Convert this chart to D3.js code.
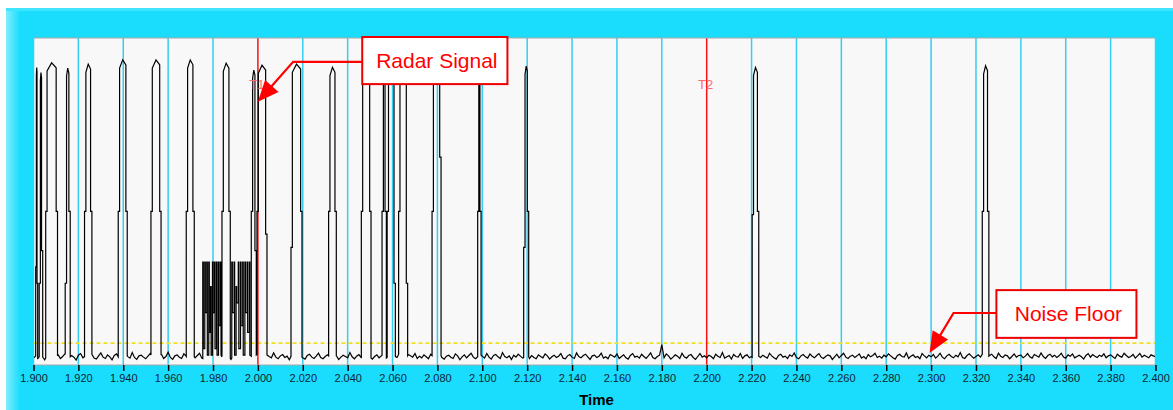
<!DOCTYPE html>
<html><head><meta charset="utf-8">
<script src="https://cdn.jsdelivr.net/npm/d3@7/dist/d3.min.js"></script>
<style>
body{margin:0;background:#fff;overflow:hidden;}
svg{display:block;font-family:"Liberation Sans",Arial,sans-serif;}
</style>
</head><body>
<svg id="chart" width="1173" height="410"></svg>
<script>
// ---------------- DATA ----------------
const xTickValues = [1.90,1.92,1.94,1.96,1.98,2.00,2.02,2.04,2.06,2.08,2.10,2.12,2.14,2.16,2.18,2.20,2.22,2.24,2.26,2.28,2.30,2.32,2.34,2.36,2.38,2.40];
const xTitle = "Time";
const cursorTimes = [2.000, 2.200];
const cursorLabels = ["T1", "T2"];
const noiseFloorLevel = 6.7;

// radar pulses (time start, time end, peak level, left step level, right step level)
const pulseStart = [1.90098,1.90254,1.90544,1.91413,1.92274,1.93776,1.95234,1.96807,1.98399,1.99705,1.99959,2.01475,2.03151,2.04609,2.05532,2.05760,2.06271,2.07761,2.09794,2.11844,2.22026,2.32280];
const pulseEnd   = [1.90187,1.90410,1.91070,1.91636,1.92603,1.94177,1.95684,1.97164,1.98769,1.99928,2.00405,2.01965,2.03494,2.05041,2.05725,2.06125,2.06673,2.08162,2.09945,2.12067,2.22320,2.32574];
const pulsePeak  = [91.0,89.4,92.4,90.8,92.0,93.3,93.3,93.3,92.3,90.2,91.7,92.0,91.0,92.0,92.0,92.0,92.0,92.0,92.0,91.4,91.0,91.5];
const pulseStepL = [30,25,47,25,47,47,47,47,47,47,47,36,47,47,47,47,47,47,47,36,46,47];
const pulseStepR = [25,35,47,47,47,47,47,47,47,35,40,47,47,47,47,25,25,63.6,47,47,47,47];

// low-level burst spikes (start time, peak level, level held after the spike)
const burstStart  = [1.97543,1.97632,1.97721,1.97810,1.97891,1.97975,1.98064,1.98154,1.98243,1.98332,
                     1.98836,1.98938,1.99028,1.99126,1.99224,1.99322,1.99420,1.99518,1.99616];
const burstPeak   = [31.5,31.5,31.5,31.5,24,31.5,31.5,31.5,31.5,31.5,
                     31.5,31.5,24,31.5,31.5,31.5,31.5,31.5,31.5];
const burstTrough = [5,16,3,10,3,16,5,3,12,3,
                     16,3,19,5,12,3,16,10,3];
const burstWidth = 0.00025;

// noise floor trace, sampled every 0.001 from 1.900
const noiseStart = 1.900, noiseStep = 0.001;
const noise = [
2.1,2.8,1.9,3.2,2.5,1.6,2.9,3.6,2.2,1.8,2.7,3.1,2.0,2.6,3.4,1.7,2.3,2.9,2.4,1.5,3.0,3.5,2.2,2.7,1.9,
2.6,3.3,2.1,1.8,2.8,3.7,2.4,2.0,3.1,2.5,1.6,2.9,3.4,2.2,2.7,1.9,3.2,2.6,2.1,3.8,2.3,1.7,2.8,3.0,2.4,
1.9,2.7,3.5,2.2,2.9,1.8,2.5,3.3,2.0,2.6,3.9,2.3,1.7,2.8,3.1,2.4,2.0,3.4,2.7,1.6,2.5,3.0,2.2,2.9,3.6,
2.1,1.8,2.6,3.2,2.4,2.9,1.9,3.5,2.3,2.7,2.0,3.1,2.5,1.7,2.8,3.6,2.2,2.6,3.0,1.9,2.4,3.3,2.7,2.1,2.9,
3.4,2.0,2.5,1.8,3.1,2.6,2.2,3.7,2.4,1.9,2.8,3.2,2.3,2.7,1.6,3.0,2.5,2.1,3.5,2.8,2.2,1.8,2.9,3.3,2.4,
2.0,2.7,3.6,2.3,1.9,2.6,3.1,2.5,2.1,3.4,2.8,1.7,2.4,3.0,2.6,2.2,3.8,2.5,1.9,2.7,3.2,2.3,2.0,2.9,3.5,
2.4,1.8,2.6,3.1,2.2,2.8,3.4,2.0,2.5,1.7,3.0,2.7,2.3,3.6,2.1,2.6,1.9,3.2,2.8,2.4,3.5,2.0,2.7,2.2,3.1,
2.5,1.9,3.3,2.6,2.1,2.9,3.7,2.3,1.8,2.7,3.0,2.4,2.0,3.4,2.8,1.6,2.5,3.1,2.2,2.9,3.6,2.4,1.9,2.6,3.2,
2.7,2.1,3.5,2.4,1.8,2.9,3.2,2.5,2.0,3.8,2.6,2.2,2.8,1.7,3.0,2.4,3.3,2.7,2.1,2.5,3.6,2.0,2.9,2.3,1.9,
3.1,2.6,2.2,3.4,2.8,1.8,2.5,3.0,2.3,2.7,3.5,2.1,1.9,2.8,3.2,2.4,2.0,3.7,2.6,2.2,2.9,3.3,2.5,1.7,2.8,
3.0,2.3,2.7,3.6,2.1,2.5,1.9,3.2,2.8,2.4,3.4,2.0,2.6,3.1,2.2,1.8,2.9,3.5,2.4,2.7,2.1,3.3,2.6,2.0,2.8,
3.7,2.3,1.9,2.6,3.0,6.2,2.2,3.4,2.8,1.8,2.4,3.1,2.7,2.0,3.6,2.5,2.1,2.9,3.2,2.3,1.7,2.6,3.5,2.4,2.8,
2.2,3.0,2.6,1.9,3.3,2.7,2.3,3.8,2.1,2.5,2.9,1.8,3.2,2.6,2.4,3.5,2.0,2.8,3.1,2.2,2.6,1.9,3.4,2.7,2.3,
3.0,2.5,2.1,3.6,2.8,2.2,1.8,2.9,3.3,2.4,2.7,2.0,3.1,2.6,3.7,2.3,1.9,2.8,3.2,2.5,2.1,3.4,2.7,2.2,2.9,
3.5,2.4,2.0,2.6,3.1,2.8,1.7,2.5,3.3,2.2,2.9,3.6,2.4,2.0,2.7,3.0,2.3,2.8,3.4,2.1,2.6,1.9,3.2,2.5,2.9,
3.6,2.3,2.7,2.1,3.0,2.5,3.4,2.8,2.2,1.8,2.9,3.3,2.6,2.4,3.7,2.0,2.7,3.1,2.3,2.6,1.9,3.5,2.8,2.2,3.0,
2.5,3.2,2.1,2.7,3.6,2.4,1.9,2.8,3.3,2.6,2.2,3.0,2.5,3.8,2.3,2.0,2.9,3.4,2.7,2.1,2.6,3.1,2.4,3.5,2.8,
2.2,2.9,3.3,2.5,2.0,3.6,2.7,2.3,3.1,2.8,1.9,2.6,3.4,2.4,2.9,3.0,2.2,2.7,3.5,2.5,2.1,3.2,2.8,2.4,3.7,
2.6,2.0,2.9,3.3,2.5,3.0,2.3,2.8,3.6,2.4,2.1,3.1,2.7,3.4,2.2,2.6,3.0,2.5,1.8,2.9,3.5,2.4,3.2,2.7,2.3,
3.0,2.6,3.4,2.2,2.8,3.1,2.5,2.0,3.3,2.7,2.4,3.6,2.9,2.3,2.6,3.2,2.1,2.8,3.5,2.4,3.0,2.6,2.2,3.1,2.8,
2.5];

// callouts (data units)
const calloutText = ["Radar Signal", "Noise Floor"];
const calloutBoxT = [[2.0465, 2.1112], [2.3291, 2.3915]];
const calloutBoxV = [[100.3, 85.9], [22.9, 8.3]];
const calloutElbow = [[2.0157, 92.7], [2.3100, 15.9]];
const calloutTip = [[2.0000, 80.5], [2.2993, 3.7]];

// ---------------- DRAW ----------------
const W = 1173, H = 410;
const plot = {l: 33.5, r: 1155.5, t: 38, b: 365};
const svg = d3.select("#chart");
const x = d3.scaleLinear().domain([1.9, 2.4]).range([plot.l, plot.r]);
const y = d3.scaleLinear().domain([0, 100]).range([plot.b, plot.t]);

// frame
const defs = svg.append("defs");
const lg = defs.append("linearGradient").attr("id","bevel").attr("x1","0").attr("x2","1");
lg.append("stop").attr("offset","0").attr("stop-color","#7eefff");
lg.append("stop").attr("offset","1").attr("stop-color","#1adcfd");
defs.append("clipPath").attr("id","clip").append("rect")
  .attr("x", plot.l).attr("y", plot.t).attr("width", plot.r - plot.l).attr("height", plot.b - plot.t);

svg.append("rect").attr("x",0).attr("y",0).attr("width",W).attr("height",H).attr("fill","#ffffff");
svg.append("rect").attr("x",6).attr("y",8).attr("width",W-6).attr("height",H-8).attr("fill","#1adcfd");
svg.append("rect").attr("x",6).attr("y",8).attr("width",14).attr("height",H-8).attr("fill","url(#bevel)");
svg.append("rect").attr("x",6).attr("y",8).attr("width",W-6).attr("height",3).attr("fill","#40e4fe");

// plot background
svg.append("rect").attr("x",plot.l).attr("y",plot.t).attr("width",plot.r-plot.l).attr("height",plot.b-plot.t)
  .attr("fill","#f8f8f8");

const g = svg.append("g").attr("clip-path","url(#clip)");

// vertical grid
g.selectAll("line.grid").data(xTickValues.filter(v => !cursorTimes.some(c => Math.abs(c - v) < 1e-9)))
  .enter().append("line").attr("class","grid")
  .attr("x1", d => x(d)).attr("x2", d => x(d)).attr("y1", plot.t).attr("y2", plot.b)
  .attr("stroke","#35cdf2").attr("stroke-width",1.5);

// noise floor reference line
g.append("line").attr("x1",plot.l).attr("x2",plot.r).attr("y1",y(noiseFloorLevel)).attr("y2",y(noiseFloorLevel))
  .attr("stroke","#f0e020").attr("stroke-width",1.6).attr("stroke-dasharray","4,3");

// cursors
g.selectAll("line.cursor").data(cursorTimes).enter().append("line").attr("class","cursor")
  .attr("x1", d => x(d)).attr("x2", d => x(d)).attr("y1", plot.t).attr("y2", plot.b)
  .attr("stroke","#ff1010").attr("stroke-width",1.5);

// ---- build trace ----
function noiseAt(t){
  const f = (t - noiseStart) / noiseStep;
  const i = Math.max(0, Math.min(noise.length - 2, Math.floor(f)));
  const fr = Math.max(0, Math.min(1, f - i));
  return noise[i] + (noise[i+1] - noise[i]) * fr;
}
const segs = pulseStart.map((s,i) => {
  const e = pulseEnd[i], p = pulsePeak[i];
  const d = Math.min(0.0006, (e - s) / 3), c = (s + e) / 2;
  return {s, e, v: [[s, noiseAt(s)], [s, pulseStepL[i]], [s + d, pulseStepL[i]], [s + d, p - 2.5], [c, p],
                    [e - d, p - 1.5], [e - d, pulseStepR[i]], [e, pulseStepR[i]], [e, noiseAt(e)]]};
});
// group burst spikes into contiguous bursts
let grp = null;
burstStart.forEach((s,i) => {
  if (!grp || s - grp.e > 0.0015) {
    grp = {s, e: s, v: [[s, noiseAt(s)]]};
    segs.push(grp);
  }
  const last = grp.v[grp.v.length - 1][1];
  grp.v.push([s, last], [s, burstPeak[i]], [s + burstWidth, burstPeak[i]], [s + burstWidth, burstTrough[i]]);
  grp.e = s + burstWidth;
});
segs.forEach(sg => sg.v.push([sg.e + 0.0003, noiseAt(sg.e + 0.0003)]));
segs.sort((a,b) => a.s - b.s);

const pts = [];
let k = 0;
noise.forEach((v,i) => {
  const t = noiseStart + i * noiseStep;
  while (k < segs.length && segs[k].s <= t) { pts.push(...segs[k].v); k++; }
  if (!segs.some(p => t >= p.s && t <= p.e + 0.0003)) pts.push([t, v]);
});
while (k < segs.length) { pts.push(...segs[k].v); k++; }

g.append("path").datum(pts)
  .attr("d", d3.line().x(d => x(d[0])).y(d => y(d[1])))
  .attr("fill","none").attr("stroke","#000").attr("stroke-width",1.2).attr("stroke-linejoin","miter");

// cursor labels
g.selectAll("text.clabel").data(cursorTimes).enter().append("text").attr("class","clabel")
  .attr("x", d => x(d) - 1).attr("y", y(84.5)).attr("text-anchor","middle")
  .attr("font-size",13).attr("fill","#ff6a6a").text((d,i) => cursorLabels[i]);

// plot border
svg.append("rect").attr("x",plot.l).attr("y",plot.t).attr("width",plot.r-plot.l).attr("height",plot.b-plot.t)
  .attr("fill","none").attr("stroke","#a8a8a8").attr("stroke-width",1);

// callouts
calloutText.forEach((txt, i) => {
  const bx0 = x(calloutBoxT[i][0]), bx1 = x(calloutBoxT[i][1]);
  const by0 = y(calloutBoxV[i][0]), by1 = y(calloutBoxV[i][1]);
  const ex = x(calloutElbow[i][0]), ey = y(calloutElbow[i][1]);
  const tx = x(calloutTip[i][0]), ty = y(calloutTip[i][1]);
  const dx = tx - ex, dy = ty - ey, len = Math.hypot(dx, dy), ux = dx/len, uy = dy/len;
  const hl = 21, hw = 9;
  const bxp = tx - ux*hl, byp = ty - uy*hl;
  svg.append("polyline").attr("points", [[bx0, ey],[ex, ey],[bxp + ux*4, byp + uy*4]].map(p => p.join(",")).join(" "))
    .attr("fill","none").attr("stroke","#ff0000").attr("stroke-width",2.2);
  svg.append("polygon").attr("points", [[tx,ty],[bxp - uy*hw, byp + ux*hw],[bxp + uy*hw, byp - ux*hw]].map(p => p.join(",")).join(" "))
    .attr("fill","#ff0000");
  svg.append("rect").attr("x",bx0).attr("y",by0).attr("width",bx1-bx0).attr("height",by1-by0)
    .attr("fill","#ffffff").attr("stroke","#ee0000").attr("stroke-width",2);
  svg.append("text").attr("x",(bx0+bx1)/2 + 2).attr("y",(by0+by1)/2 + 7.5).attr("text-anchor","middle")
    .attr("font-size",21).attr("fill","#ff0000").text(txt);
});

// x axis
const axis = d3.axisBottom(x).tickValues(xTickValues).tickFormat(d3.format(".3f")).tickSize(6).tickPadding(3);
const ax = svg.append("g").attr("transform",`translate(0,${plot.b})`).call(axis);
ax.select(".domain").remove();
ax.selectAll(".tick line").attr("stroke","#000").attr("stroke-width",1.5);
ax.selectAll(".tick text").attr("font-size",11).attr("fill","#0d2633")
  .attr("font-family","'Liberation Sans',Arial,sans-serif");

svg.append("text").attr("x",(plot.l+plot.r)/2 + 2).attr("y",405).attr("text-anchor","middle")
  .attr("font-size",15).attr("font-weight","bold").attr("fill","#000").text(xTitle);
</script>
</body></html>
